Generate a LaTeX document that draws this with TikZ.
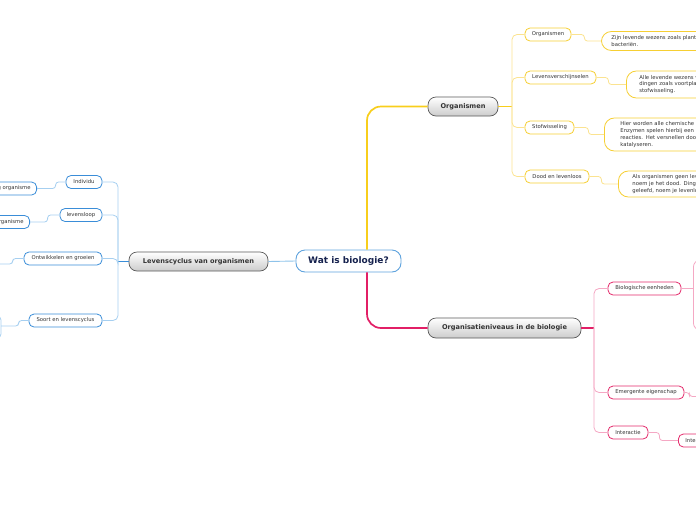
\documentclass[tikz,border=0pt]{standalone}
\usepackage{fontspec}
\setmainfont{DejaVu Sans}
\definecolor{cblue}{HTML}{5FA3DE}
\definecolor{navy}{HTML}{16224E}
\definecolor{bbord}{HTML}{3A8DD8}
\definecolor{bline}{HTML}{A6CFF0}
\definecolor{bmain}{HTML}{8EC3EA}
\definecolor{ybord}{HTML}{F6CF33}
\definecolor{yline}{HTML}{FBE390}
\definecolor{ymain}{HTML}{F8CE1C}
\definecolor{pbord}{HTML}{E42A6B}
\definecolor{pline}{HTML}{F5A8C4}
\definecolor{pmain}{HTML}{E21F66}
\definecolor{txt}{HTML}{333333}
\tikzset{
  mainbox/.style={draw=black!65, rounded corners=8pt, top color=white, bottom color=black!20,
    font=\bfseries\fontsize{6.6}{8}\selectfont, text=txt, inner sep=0pt, minimum height=19pt, line width=0.7pt},
  centerbox/.style={draw=cblue, fill=white, rounded corners=9pt,
    font=\bfseries\fontsize{9}{11}\selectfont, text=navy, inner sep=0pt, minimum height=22pt, line width=0.9pt},
  childbase/.style={fill=white, rounded corners=5pt, line width=0.8pt,
    font=\fontsize{5.3}{6.5}\selectfont, text=txt, minimum height=13pt, inner sep=0pt},
  ychild/.style={childbase, draw=ybord},
  bchild/.style={childbase, draw=bbord},
  pchild/.style={childbase, draw=pbord},
  yleaf/.style={draw=ybord, fill=white, rounded corners=10pt, line width=0.8pt, anchor=west,
    font=\fontsize{5.3}{6.7}\selectfont, text=txt, align=left, text width=190pt, inner ysep=0pt},
  yconn/.style={draw=yline, line width=0.8pt},
  bconn/.style={draw=bline, line width=0.8pt},
  pconn/.style={draw=pline, line width=0.8pt},
}
\begin{document}
\begin{tikzpicture}[x=1pt, y=-1pt]
\useasboundingbox (0,0) rectangle (696,520);
\clip (0,0) rectangle (696,520);
% main nodes
\node[centerbox, minimum width=105pt] (wat) at (348.5,261) {Wat is biologie?};
\node[mainbox, minimum width=139pt] (lev) at (198.5,261.5) {Levenscyclus van organismen};
\node[mainbox, minimum width=70pt] (org) at (463,106.5) {Organismen};
\node[mainbox, minimum width=153pt, minimum height=20pt] (niv) at (504.5,328) {Organisatieniveaus in de biologie};
% main connectors
\draw[draw=bmain, line width=0.9pt] (wat.west) -- (lev.east);
\draw[draw=ymain, line width=1.7pt, rounded corners=14pt] ([xshift=18.5pt]wat.north) |- (org.west);
\draw[draw=pmain, line width=1.7pt, rounded corners=14pt] ([xshift=18.5pt]wat.south) |- (niv.west);
% yellow branch
\node[ychild, minimum width=46pt] (y1) at (548,34.5) {Organismen};
\node[ychild, minimum width=71pt] (y2) at (560.5,77.5) {Levensverschijnselen};
\node[ychild, minimum width=49pt] (y3) at (549.5,127.5) {Stofwisseling};
\node[ychild, minimum width=64pt] (y4) at (557,176.5) {Dood en levenloos};
\coordinate (yb) at (512,106.5);
\draw[draw=ymain, line width=1.2pt] (org.east) -- (yb);
\foreach \c in {y1,y2,y3,y4} \draw[yconn, rounded corners=5pt] (yb) |- (\c.west);
\node[yleaf, inner xsep=10pt, minimum height=19pt] (l1) at (601,41)
  {Zijn levende wezens zoals planten, dieren en\\bacteriën.};
\node[yleaf, inner xsep=13pt, minimum height=27pt] (l2) at (626,84.5)
  {Alle levende wezens vertonen\\dingen zoals voortplanting en\\stofwisseling.};
\node[yleaf, inner xsep=16pt, minimum height=33pt] (l3) at (604,134.5)
  {Hier worden alle chemische processen bedoeld.\\Enzymen spelen hierbij een belangrijke rol\\reacties. Het versnellen door enzymen\\katalyseren.};
\node[yleaf, inner xsep=14pt, minimum height=26pt] (l4) at (618,184)
  {Als organismen geen levensverschijnselen\\noem je het dood. Dingen die nooit hebben\\geleefd, noem je levenloos.};
\draw[yconn, rounded corners=3pt] (y1.east) -- ++(13,0) |- (l1.west);
\draw[yconn, rounded corners=3pt] (y2.east) -- ++(12,0) |- (l2.west);
\draw[yconn, rounded corners=3pt] (y3.east) -- ++(14,0) |- (l3.west);
\draw[yconn, rounded corners=3pt] (y4.east) -- ++(12,0) |- (l4.west);
% blue branch
\node[bchild, minimum width=36pt] (b1) at (84,182) {Individu};
\node[bchild, minimum width=42pt] (b2) at (81,215) {levensloop};
\node[bchild, minimum width=78pt] (b3) at (63,258.5) {Ontwikkelen en groeien};
\node[bchild, minimum width=73pt] (b4) at (65.5,320.5) {Soort en levenscyclus};
\coordinate (bb) at (118,261.5);
\draw[draw=bbord, line width=0.9pt] (lev.west) -- (bb);
\foreach \c in {b1,b2,b3,b4} \draw[bconn, rounded corners=5pt] (bb) |- (\c.east);
\node[bchild, anchor=east, inner xsep=6pt] (g1) at (37,188.5) {Eencellig organisme};
\node[bchild, anchor=east, inner xsep=6pt] (g2) at (30,222) {Meercellig organisme};
\coordinate (g3) at (-6,264);
\coordinate (g4) at (1,326);
\coordinate (g4a) at (-10,316);
\coordinate (g4b) at (-10,338);
\draw[bconn, rounded corners=3pt] (b1.west) -- ++(-10,0) |- (g1.east);
\draw[bconn, rounded corners=3pt] (b2.west) -- ++(-12,0) |- (g2.east);
\draw[bconn, rounded corners=3pt] (b3.west) -- ++(-11,0) |- (g3);
\draw[bconn, rounded corners=3pt] (b4.west) -- ++(-10,0) |- (g4);
\draw[bconn, rounded corners=4pt] (g4a) -| (g4) |- (g4b);
% pink branch
\node[pchild, minimum width=73pt] (p1) at (644.5,288.5) {Biologische eenheden};
\node[pchild, minimum width=76pt] (p2) at (646,392.5) {Emergente eigenschap};
\node[pchild, minimum width=40pt] (p3) at (628,432.5) {Interactie};
\coordinate (pb) at (594,328);
\draw[draw=pmain, line width=1.1pt] (niv.east) -- (pb);
\foreach \c in {p1,p2,p3} \draw[pconn, rounded corners=5pt] (pb) |- (\c.west);
\node[draw=pline, fill=white, rounded corners=7pt, line width=0.8pt, anchor=west,
  minimum width=60pt, minimum height=70pt] (q1) at (693,295) {};
\coordinate (q2) at (710,396.5);
\node[pchild, anchor=west, inner xsep=7pt] (q3) at (678,440.5) {Interactie};
\draw[pconn] (p1.east) -- (p1.east -| q1.west);
\draw[pconn, rounded corners=3pt] (p2.east) -- ++(5,0) |- (q2);
\draw[pconn, rounded corners=3pt] (p3.east) -- ++(11,0) |- (q3.west);
\end{tikzpicture}
\end{document}
